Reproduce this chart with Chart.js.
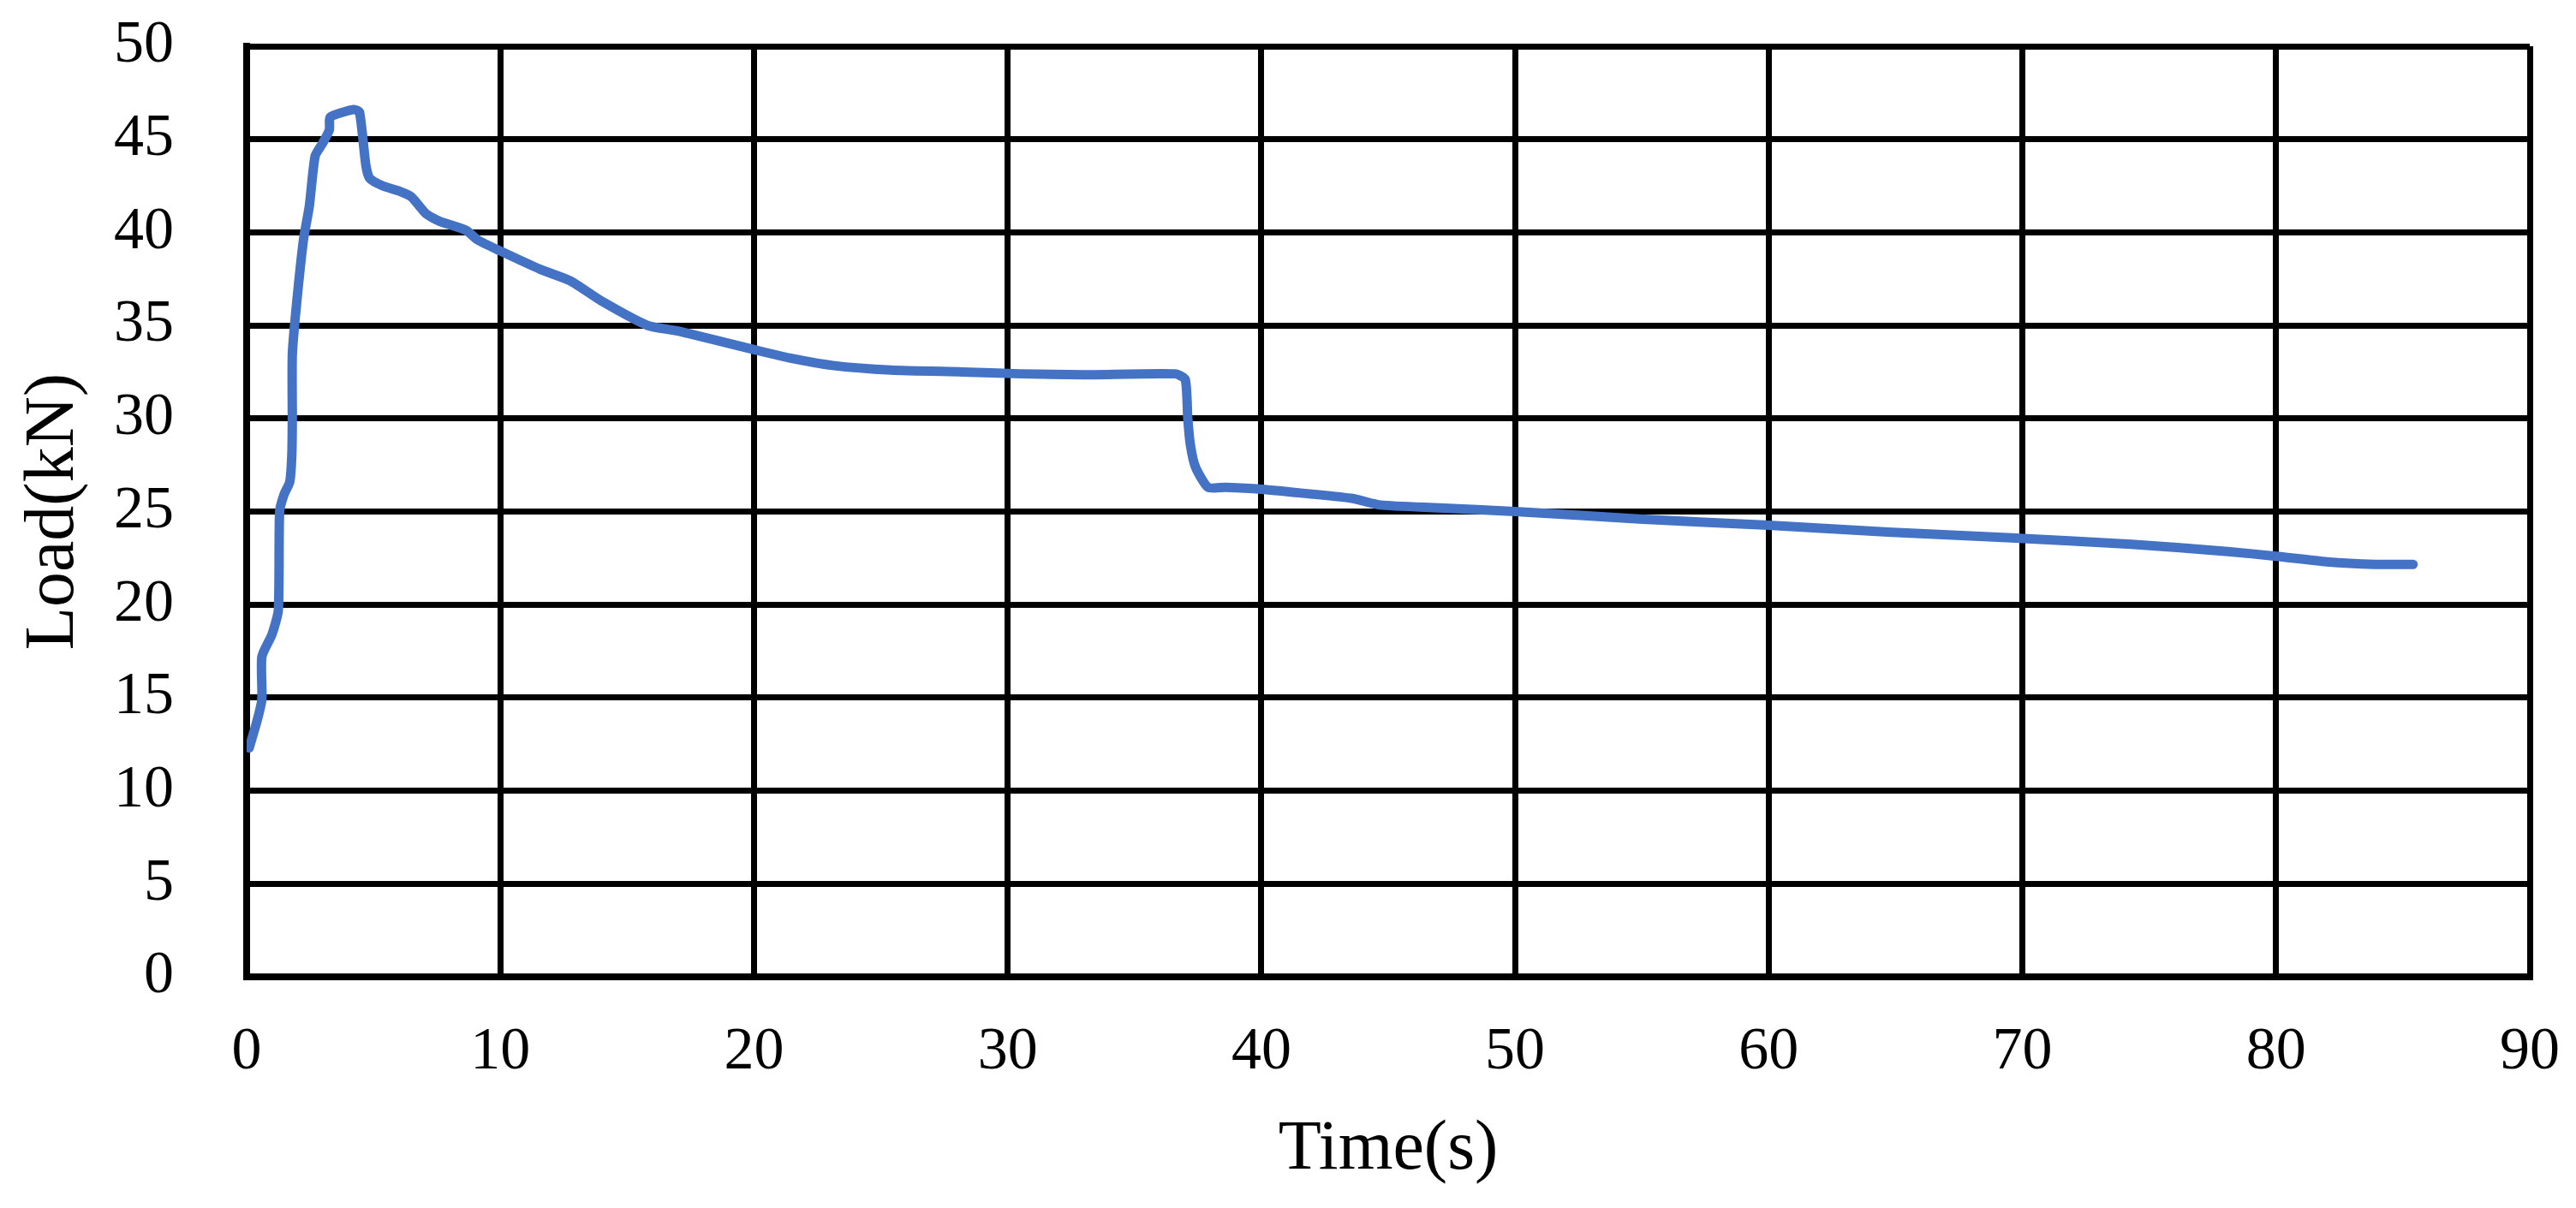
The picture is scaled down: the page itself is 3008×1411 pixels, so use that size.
<!DOCTYPE html>
<html>
<head>
<meta charset="utf-8">
<script src="https://cdn.jsdelivr.net/npm/chart.js@4.4.1/dist/chart.umd.min.js"></script>
<style>
  html, body { margin: 0; padding: 0; background: #ffffff; }
  #wrap { width: 3008px; height: 1411px; }
</style>
</head>
<body>
<div id="wrap"><canvas id="loadChart" width="3008" height="1411"></canvas></div>
<script>
// time (s) and load (kN)
const timeS = [0.1, 0.4, 0.6, 0.6, 1.0, 1.25, 1.3, 1.47, 1.7, 1.78, 1.8, 1.8, 1.95, 2.24, 2.47, 2.7,
  3.0, 3.26, 3.3, 4.23, 4.45, 4.7, 4.85, 5.36, 6.05, 6.5, 7.07, 7.6, 8.66, 9.1, 10.0, 11.6,
  12.75, 14.0, 15.8, 17.0, 20.0, 21.4, 23.1, 25.4, 28.2, 30.5, 33.0, 36.6, 37.0, 37.1, 37.2,
  37.4, 37.9, 38.6, 40.0, 41.9, 43.6, 44.7, 47.0, 50.0, 54.9, 60.0, 64.7, 69.4, 74.3, 78.1,
  80.0, 82.0, 83.9, 85.4];
const loadKN = [12.3, 13.7, 14.9, 17.2, 18.4, 19.7, 25.0, 25.9, 26.6, 28.0, 29.9, 33.4, 35.9, 39.6, 41.4, 44.1,
  44.8, 45.5, 46.2, 46.6, 46.45, 43.6, 42.9, 42.5, 42.2, 41.9, 41.0, 40.6, 40.1, 39.6, 39.0, 38.0,
  37.4, 36.3, 35.0, 34.7, 33.7, 33.25, 32.85, 32.6, 32.5, 32.4, 32.35, 32.4, 32.1, 30.0, 28.6,
  27.4, 26.3, 26.3, 26.2, 25.95, 25.7, 25.35, 25.2, 25.0, 24.6, 24.26, 23.9, 23.6, 23.24, 22.85,
  22.6, 22.3, 22.16, 22.16];

const xTitle = "Time(s)";
const yTitle = "Load(kN)";

const serif = "'Liberation Serif', 'Times New Roman', serif";

new Chart(document.getElementById("loadChart"), {
  type: 'line',
  data: {
    datasets: [{
      label: yTitle,
      data: timeS.map((t, i) => ({ x: t, y: loadKN[i] })),
      borderColor: '#4472C4',
      borderWidth: 11,
      borderCapStyle: 'round',
      borderJoinStyle: 'round',
      pointRadius: 0,
      tension: 0.2,
      fill: false
    }]
  },
  options: {
    responsive: false,
    devicePixelRatio: 1,
    animation: false,
    layout: { padding: { top: 54, right: 54, bottom: 0, left: 0 } },
    plugins: { legend: { display: false }, tooltip: { enabled: false } },
    scales: {
      x: {
        type: 'linear',
        min: 0, max: 90,
        // fixed axis box; drop the label overhang so the plot keeps its size
        afterFit: s => { s.height = 270; s.paddingLeft = 0; s.paddingRight = 0; },
        grid: { color: '#000', lineWidth: 7, drawTicks: false },
        border: { color: '#000', width: 8 },
        ticks: { stepSize: 10, padding: 47, color: '#000', font: { family: serif, size: 70 } },
        title: { display: true, text: xTitle, color: '#000', padding: { top: 0, bottom: 18 },
                 font: { family: serif, size: 82 } }
      },
      y: {
        min: 0, max: 50,
        afterFit: s => { s.width = 288; s.paddingTop = 0; s.paddingBottom = 0; },
        grid: { color: '#000', lineWidth: 7, drawTicks: false },
        border: { color: '#000', width: 8 },
        ticks: { stepSize: 5, padding: 85, color: '#000', font: { family: serif, size: 70 } },
        title: { display: true, text: yTitle, color: '#000', padding: { top: 14, bottom: 0 },
                 font: { family: serif, size: 82 } }
      }
    }
  }
});
</script>
</body>
</html>
